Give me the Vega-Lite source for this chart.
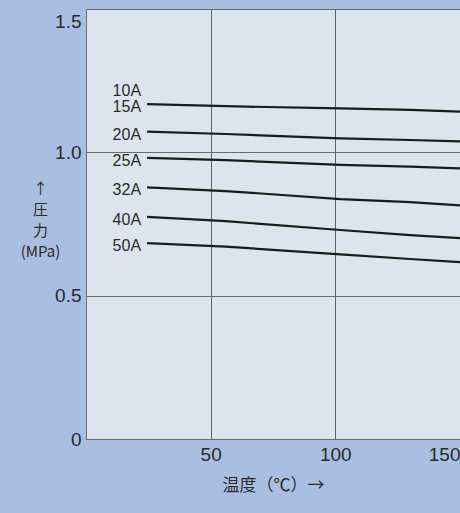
{
  "$schema": "https://vega.github.io/schema/vega-lite/v6.json",
  "autosize": {"type": "none"},
  "padding": {"left": 86, "top": 9, "right": 0, "bottom": 74},
  "width": 374,
  "height": 430,
  "background": "#a9bfe1",
  "config": {
    "view": {"fill": "#dde4ed", "stroke": "#6f6f6f", "strokeWidth": 1},
    "font": "Liberation Sans"
  },
  "data": {
    "values": [
      {"size": "15A", "t": 24.5, "p": 1.168},
      {"size": "15A", "t": 56, "p": 1.161},
      {"size": "15A", "t": 102, "p": 1.153},
      {"size": "15A", "t": 130, "p": 1.148},
      {"size": "15A", "t": 150, "p": 1.142},
      {"size": "20A", "t": 24.5, "p": 1.072},
      {"size": "20A", "t": 56, "p": 1.064},
      {"size": "20A", "t": 102, "p": 1.049},
      {"size": "20A", "t": 130, "p": 1.043},
      {"size": "20A", "t": 150, "p": 1.038},
      {"size": "25A", "t": 24.5, "p": 0.981},
      {"size": "25A", "t": 56, "p": 0.973},
      {"size": "25A", "t": 102, "p": 0.956},
      {"size": "25A", "t": 130, "p": 0.95},
      {"size": "25A", "t": 150, "p": 0.944},
      {"size": "32A", "t": 24.5, "p": 0.878},
      {"size": "32A", "t": 56, "p": 0.865},
      {"size": "32A", "t": 102, "p": 0.837},
      {"size": "32A", "t": 130, "p": 0.826},
      {"size": "32A", "t": 150, "p": 0.815},
      {"size": "40A", "t": 24.5, "p": 0.775},
      {"size": "40A", "t": 56, "p": 0.76},
      {"size": "40A", "t": 102, "p": 0.729},
      {"size": "40A", "t": 130, "p": 0.711},
      {"size": "40A", "t": 150, "p": 0.701},
      {"size": "50A", "t": 24.5, "p": 0.683},
      {"size": "50A", "t": 56, "p": 0.671},
      {"size": "50A", "t": 102, "p": 0.644},
      {"size": "50A", "t": 130, "p": 0.628},
      {"size": "50A", "t": 150, "p": 0.617}
    ]
  },
  "encoding": {
    "x": {
      "field": "t",
      "type": "quantitative",
      "scale": {"domain": [0, 150], "nice": false},
      "axis": {
        "values": [50, 100, 150],
        "grid": true,
        "gridColor": "#5f5f5f",
        "gridWidth": 1,
        "gridOpacity": 1,
        "ticks": false,
        "domain": true,
        "domainColor": "#6f6f6f",
        "labelFlush": true,
        "labelFont": "Liberation Sans",
        "labelFontSize": 19,
        "labelColor": "#2a2a2a",
        "labelPadding": 6,
        "title": "温度（℃）→",
        "titleFont": "Noto Sans CJK JP",
        "titleFontSize": 17,
        "titleFontWeight": "normal",
        "titleColor": "#2a2a2a",
        "titleBaseline": "top",
        "titleY": 38
      }
    },
    "y": {
      "field": "p",
      "type": "quantitative",
      "scale": {"domain": [0, 1.5], "nice": false},
      "axis": {
        "values": [0, 0.5, 1.0, 1.5],
        "labelExpr": "datum.value == 0 ? '0' : format(datum.value, '.1f')",
        "grid": true,
        "gridColor": "#6a6a6a",
        "gridWidth": 1,
        "gridOpacity": 1,
        "ticks": false,
        "domain": true,
        "domainColor": "#6f6f6f",
        "labelFont": "Liberation Sans",
        "labelFontSize": 19,
        "labelColor": "#2a2a2a",
        "labelPadding": 5,
        "labelBaseline": "middle",
        "labelOffset": {"condition": {"test": "datum.value == 1.5", "value": 12}, "value": 0},
        "title": ["↑", "圧", "力", "(MPa)"],
        "titleFont": "Noto Sans CJK JP",
        "titleFontSize": 15,
        "titleFontWeight": "normal",
        "titleColor": "#2a2a2a",
        "titleAngle": 0,
        "titleAlign": "center",
        "titleBaseline": "top",
        "titleLineHeight": 21,
        "titleX": -46,
        "titleY": 172
      }
    }
  },
  "layer": [
    {
      "mark": {"type": "line", "color": "#1a1a1a", "strokeWidth": 2.2},
      "encoding": {"detail": {"field": "size"}}
    },
    {
      "transform": [{"filter": "datum.t == 24.5"}],
      "mark": {"type": "text", "align": "right", "baseline": "middle", "dx": -6, "dy": 3, "fontSize": 16, "font": "Liberation Sans", "color": "#2a2a2a"},
      "encoding": {"text": {"field": "size"}}
    },
    {
      "transform": [{"filter": "datum.t == 24.5 && datum.size == '15A'"}],
      "mark": {"type": "text", "align": "right", "baseline": "middle", "dx": -6, "dy": -13, "fontSize": 16, "font": "Liberation Sans", "color": "#2a2a2a"},
      "encoding": {"text": {"value": "10A"}}
    }
  ]
}
